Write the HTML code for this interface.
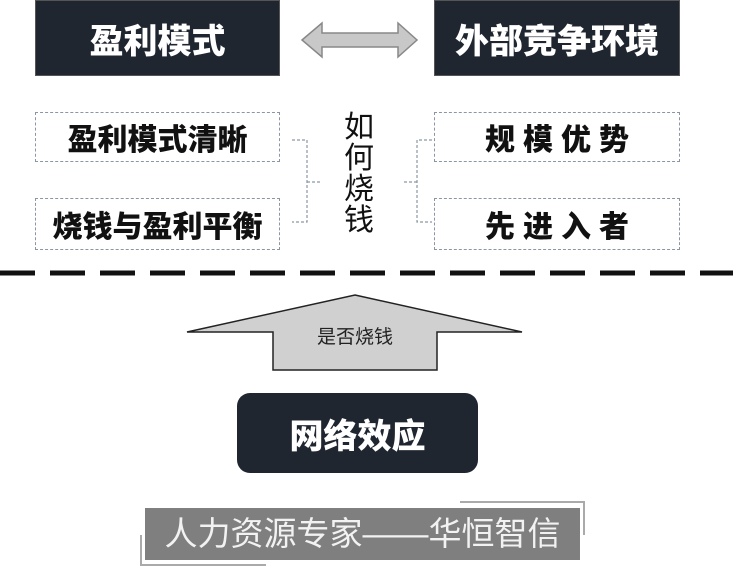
<!DOCTYPE html>
<html><head><meta charset="utf-8"><style>
body{margin:0;width:733px;height:570px;background:#fff;overflow:hidden;position:relative;font-family:"Liberation Sans","Noto Sans CJK SC",sans-serif}
.d{position:absolute;box-sizing:border-box}
.top{background:#1f2630;color:#fff;font-weight:900;font-size:34px;display:flex;align-items:center;justify-content:center;border:1px solid #555}
.db{border:1.5px dashed #8a96a3;display:flex;align-items:center;justify-content:center;font-weight:900;font-size:30px;color:#111}
</style></head><body>
<div class="d top" style="left:35px;top:0;width:245px;height:76px">盈利模式</div>
<div class="d top" style="left:434px;top:0;width:246px;height:76px">外部竞争环境</div>
<svg class="d" style="left:0;top:0" width="733" height="570">
<polygon points="302,40 322,23 322,33 398,33 398,23 417,40 398,57 398,47 322,47 322,57" fill="#c8c8c8" stroke="#888" stroke-width="1.5"/>
<g fill="none" stroke="#8a96a3" stroke-width="1.2" stroke-dasharray="3,2">
<path d="M292,140 H307 V222 H292 M307,182 H322"/>
<path d="M432,140 H417 V222 H432 M417,182 H403"/>
</g>
<line x1="0" y1="273" x2="733" y2="273" stroke="#111" stroke-width="5" stroke-dasharray="35,15"/>
<polygon points="355,295 522,332 437,332 437,370 273,370 273,332 187,332" fill="#d0d0d0" stroke="#222" stroke-width="1.5"/>
<rect x="145" y="508" width="435" height="52" fill="#7f7f7f"/>
<path d="M460,502 H584 V535" fill="none" stroke="#aaa" stroke-width="2"/>
<path d="M141,535 V565 H266" fill="none" stroke="#aaa" stroke-width="2"/>
</svg>
<div class="d db" style="left:35px;top:112px;width:245px;height:50px">盈利模式清晰</div>
<div class="d db" style="left:35px;top:198px;width:245px;height:52px">烧钱与盈利平衡</div>
<div class="d db" style="left:434px;top:112px;width:246px;height:50px;letter-spacing:8px;padding-left:8px">规模优势</div>
<div class="d db" style="left:434px;top:198px;width:246px;height:52px;letter-spacing:8px;padding-left:8px">先进入者</div>
<div class="d" style="left:344px;top:112px;width:32px;font-size:30px;line-height:31px;color:#111">如何烧钱</div>
<div class="d" style="left:280px;top:322px;width:150px;text-align:center;font-size:19px;color:#222">是否烧钱</div>
<div class="d" style="left:237px;top:393px;width:241px;height:80px;background:#1f2630;border-radius:13px;color:#fff;font-weight:900;font-size:34px;display:flex;align-items:center;justify-content:center">网络效应</div>
<div class="d" style="left:145px;top:508px;width:435px;height:52px;color:#f2f2f2;font-size:33px;line-height:52px;text-align:center;white-space:nowrap">人力资源专家——华恒智信</div>
</body></html>
